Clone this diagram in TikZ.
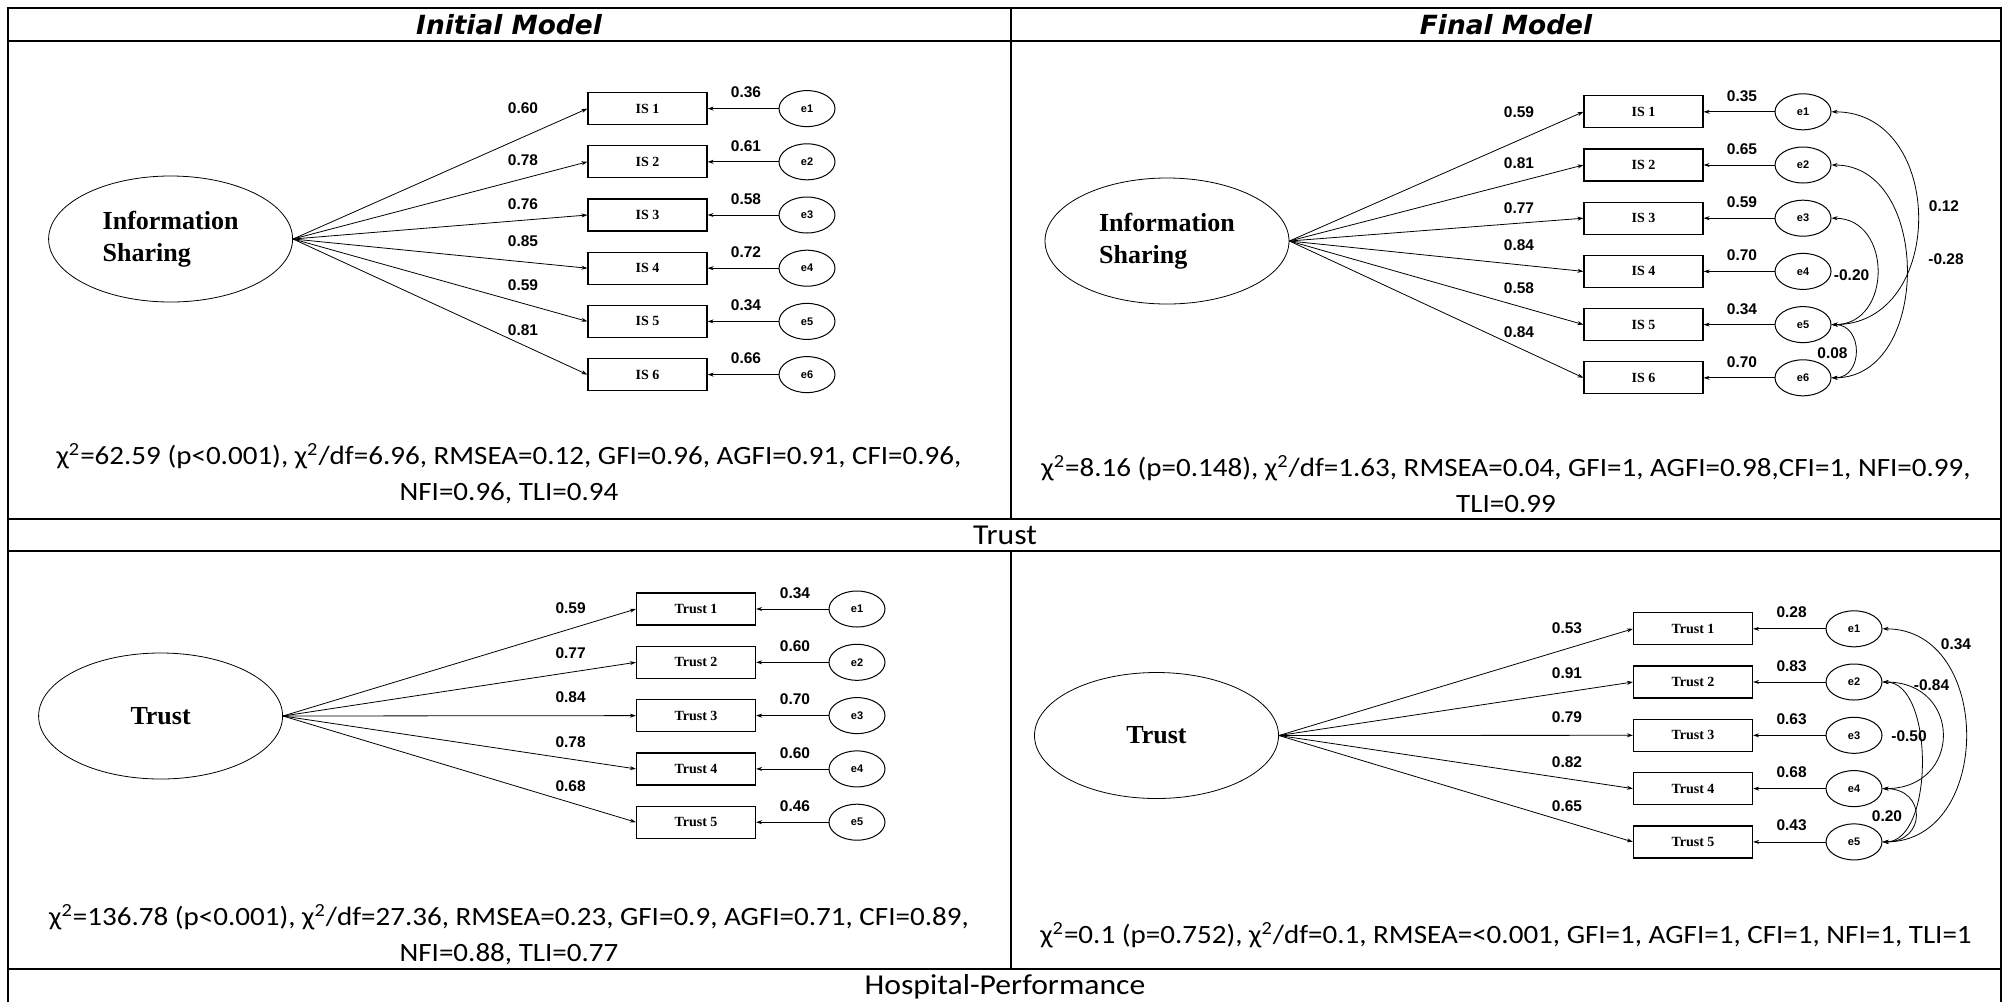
\documentclass[tikz,border=0pt]{standalone}
\usepackage{fontspec}
\setmainfont{Carlito}[FakeStretch=1.1]
\newfontfamily\hdrfont{DejaVu Sans}
\newfontfamily\tnrfont{Liberation Serif}
\newfontfamily\arlfont{Liberation Sans}
\usetikzlibrary{shapes.geometric,arrows.meta}

\begin{document}
\begin{tikzpicture}[x=0.5pt,y=-0.5pt,
  rule/.style={line width=0.8pt},
  head/.style={font=\hdrfont\bfseries\itshape\fontsize{13.2}{16}\selectfont},
  fitidx/.style={align=center,font=\fontsize{13.2}{18}\selectfont},
  rowlbl/.style={font=\fontsize{14.4}{17}\selectfont},
  latent/.style={draw,ellipse,line width=0.4pt,minimum width=122pt,minimum height=63pt,
                 inner sep=0pt,align=left,font=\tnrfont\bfseries\fontsize{13}{16}\selectfont},
  item/.style={draw,line width=0.6pt,minimum width=59.5pt,minimum height=16pt,
               inner sep=0pt,font=\tnrfont\bfseries\fontsize{7}{8}\selectfont},
  err/.style={draw,ellipse,line width=0.5pt,minimum width=28pt,minimum height=18pt,
              inner sep=0pt,font=\arlfont\bfseries\fontsize{5.5}{6}\selectfont},
  coef/.style={inner sep=0pt,font=\arlfont\bfseries\fontsize{7.75}{9}\selectfont},
  load/.style={-{Stealth[length=3pt,width=2pt]},line width=0.4pt},
  cov/.style={{Stealth[length=3pt,width=2pt]}-{Stealth[length=3pt,width=2pt]},line width=0.4pt}]
  \useasboundingbox (0,0) rectangle (2007,1002);

  % table frame
  \draw[rule] (8,1002) -- (8,8) -- (2001,8) -- (2001,1002);
  \draw[rule] (8,41) -- (2001,41);
  \draw[rule] (8,519) -- (2001,519);
  \draw[rule] (8,551) -- (2001,551);
  \draw[rule] (8,969) -- (2001,969);
  \draw[rule] (1011,8) -- (1011,519);
  \draw[rule] (1011,551) -- (1011,969);

  \node[head] (hinit) at (509,25) {Initial Model};
  \node[head] (hfinal) at (1506,25) {Final Model};
  \node[rowlbl] (rtrust) at (1005,535.5) {Trust};
  \node[rowlbl] (rhosp) at (1005,987) {Hospital-Performance};

  % initial model, information sharing
  \node[latent] (isi) at (170.6,239) {Information\\Sharing};
  \node[item] (isi1) at (647.5,108.6) {IS 1};
  \node[item] (isi2) at (647.5,161.8) {IS 2};
  \node[item] (isi3) at (647.5,215)   {IS 3};
  \node[item] (isi4) at (647.5,268.2) {IS 4};
  \node[item] (isi5) at (647.5,321.4) {IS 5};
  \node[item] (isi6) at (647.5,374.6) {IS 6};
  \node[err] (ei1) at (807,108.6) {e1};
  \node[err] (ei2) at (807,161.8) {e2};
  \node[err] (ei3) at (807,215)   {e3};
  \node[err] (ei4) at (807,268.2) {e4};
  \node[err] (ei5) at (807,321.4) {e5};
  \node[err] (ei6) at (807,374.6) {e6};
  \node[coef] (wi1) at (523,108.6) {0.60};
  \node[coef] (wi2) at (523,160)   {0.78};
  \node[coef] (wi3) at (523,204.5) {0.76};
  \node[coef] (wi4) at (523,241)   {0.85};
  \node[coef] (wi5) at (523,285.6) {0.59};
  \node[coef] (wi6) at (523,329.7) {0.81};
  \node[coef] (vi1) at (746,92.6)  {0.36};
  \node[coef] (vi2) at (746,145.8) {0.61};
  \node[coef] (vi3) at (746,199)   {0.58};
  \node[coef] (vi4) at (746,252.2) {0.72};
  \node[coef] (vi5) at (746,305.4) {0.34};
  \node[coef] (vi6) at (746,358.6) {0.66};
  \draw[load] (isi.east) -- (isi1.west);
  \draw[load] (isi.east) -- (isi2.west);
  \draw[load] (isi.east) -- (isi3.west);
  \draw[load] (isi.east) -- (isi4.west);
  \draw[load] (isi.east) -- (isi5.west);
  \draw[load] (isi.east) -- (isi6.west);
  \draw[load] (ei1) -- (isi1);
  \draw[load] (ei2) -- (isi2);
  \draw[load] (ei3) -- (isi3);
  \draw[load] (ei4) -- (isi4);
  \draw[load] (ei5) -- (isi5);
  \draw[load] (ei6) -- (isi6);
  \node[fitidx] (fiti) at (509,474)
    {χ\textsuperscript{2}=62.59 (p<0.001), χ\textsuperscript{2}/df=6.96, RMSEA=0.12, GFI=0.96, AGFI=0.91, CFI=0.96,\\
     NFI=0.96, TLI=0.94};

  % final model, information sharing
  \node[latent] (isf) at (1167,241) {Information\\Sharing};
  \node[item] (isf1) at (1643.5,111.8) {IS 1};
  \node[item] (isf2) at (1643.5,165)   {IS 2};
  \node[item] (isf3) at (1643.5,218.2) {IS 3};
  \node[item] (isf4) at (1643.5,271.4) {IS 4};
  \node[item] (isf5) at (1643.5,324.6) {IS 5};
  \node[item] (isf6) at (1643.5,377.8) {IS 6};
  \node[err] (ef1) at (1803,111.8) {e1};
  \node[err] (ef2) at (1803,165)   {e2};
  \node[err] (ef3) at (1803,218.2) {e3};
  \node[err] (ef4) at (1803,271.4) {e4};
  \node[err] (ef5) at (1803,324.6) {e5};
  \node[err] (ef6) at (1803,377.8) {e6};
  \node[coef] (wf1) at (1519,112)   {0.59};
  \node[coef] (wf2) at (1519,163.6) {0.81};
  \node[coef] (wf3) at (1519,208)   {0.77};
  \node[coef] (wf4) at (1519,244.7) {0.84};
  \node[coef] (wf5) at (1519,288)   {0.58};
  \node[coef] (wf6) at (1519,332)   {0.84};
  \node[coef] (vf1) at (1742,96)    {0.35};
  \node[coef] (vf2) at (1742,149.2) {0.65};
  \node[coef] (vf3) at (1742,202.4) {0.59};
  \node[coef] (vf4) at (1742,255.6) {0.70};
  \node[coef] (vf5) at (1742,308.8) {0.34};
  \node[coef] (vf6) at (1742,362)   {0.70};
  \draw[load] (isf.east) -- (isf1.west);
  \draw[load] (isf.east) -- (isf2.west);
  \draw[load] (isf.east) -- (isf3.west);
  \draw[load] (isf.east) -- (isf4.west);
  \draw[load] (isf.east) -- (isf5.west);
  \draw[load] (isf.east) -- (isf6.west);
  \draw[load] (ef1) -- (isf1);
  \draw[load] (ef2) -- (isf2);
  \draw[load] (ef3) -- (isf3);
  \draw[load] (ef4) -- (isf4);
  \draw[load] (ef5) -- (isf5);
  \draw[load] (ef6) -- (isf6);
  \draw[cov] (ef1.east) .. controls +(115,0) and +(115,0) .. (ef5.east);
  \draw[cov] (ef2.east) .. controls +(100,0) and +(100,0) .. (ef6.east);
  \draw[cov] (ef3.east) .. controls +(61,0) and +(61,0) .. (ef5.east);
  \draw[cov] (ef5.east) .. controls +(32,0) and +(32,0) .. (ef6.east);
  \node[coef] (cf1) at (1944,206.4)   {0.12};
  \node[coef] (cf2) at (1946,259.4)   {-0.28};
  \node[coef] (cf3) at (1851.6,274.8) {-0.20};
  \node[coef] (cf4) at (1832.5,353.4) {0.08};
  \node[fitidx] (fitf) at (1506,484)
    {χ\textsuperscript{2}=8.16 (p=0.148), χ\textsuperscript{2}/df=1.63, RMSEA=0.04, GFI=1, AGFI=0.98,CFI=1, NFI=0.99,\\
     TLI=0.99};

  % initial model, trust
  \node[latent] (tri) at (160.6,716) {Trust};
  \node[item] (tri1) at (696,609)   {Trust 1};
  \node[item] (tri2) at (696,662.3) {Trust 2};
  \node[item] (tri3) at (696,715.6) {Trust 3};
  \node[item] (tri4) at (696,768.9) {Trust 4};
  \node[item] (tri5) at (696,822.2) {Trust 5};
  \node[err] (eti1) at (857,609)   {e1};
  \node[err] (eti2) at (857,662.3) {e2};
  \node[err] (eti3) at (857,715.6) {e3};
  \node[err] (eti4) at (857,768.9) {e4};
  \node[err] (eti5) at (857,822.2) {e5};
  \node[coef] (wti1) at (570.6,608) {0.59};
  \node[coef] (wti2) at (570.6,653) {0.77};
  \node[coef] (wti3) at (570.6,697) {0.84};
  \node[coef] (wti4) at (570.6,742) {0.78};
  \node[coef] (wti5) at (570.6,786) {0.68};
  \node[coef] (vti1) at (795,593)   {0.34};
  \node[coef] (vti2) at (795,646.3) {0.60};
  \node[coef] (vti3) at (795,699.6) {0.70};
  \node[coef] (vti4) at (795,752.9) {0.60};
  \node[coef] (vti5) at (795,806.2) {0.46};
  \draw[load] (tri.east) -- (tri1.west);
  \draw[load] (tri.east) -- (tri2.west);
  \draw[load] (tri.east) -- (tri3.west);
  \draw[load] (tri.east) -- (tri4.west);
  \draw[load] (tri.east) -- (tri5.west);
  \draw[load] (eti1) -- (tri1);
  \draw[load] (eti2) -- (tri2);
  \draw[load] (eti3) -- (tri3);
  \draw[load] (eti4) -- (tri4);
  \draw[load] (eti5) -- (tri5);
  \node[fitidx] (fitti) at (509,935)
    {χ\textsuperscript{2}=136.78 (p<0.001), χ\textsuperscript{2}/df=27.36, RMSEA=0.23, GFI=0.9, AGFI=0.71, CFI=0.89,\\
     NFI=0.88, TLI=0.77};

  % final model, trust
  \node[latent] (trf) at (1156.5,735.5) {Trust};
  \node[item] (trf1) at (1693,628.8) {Trust 1};
  \node[item] (trf2) at (1693,682)   {Trust 2};
  \node[item] (trf3) at (1693,735.3) {Trust 3};
  \node[item] (trf4) at (1693,788.6) {Trust 4};
  \node[item] (trf5) at (1693,841.9) {Trust 5};
  \node[err] (etf1) at (1854,628.8) {e1};
  \node[err] (etf2) at (1854,682)   {e2};
  \node[err] (etf3) at (1854,735.3) {e3};
  \node[err] (etf4) at (1854,788.6) {e4};
  \node[err] (etf5) at (1854,841.9) {e5};
  \node[coef] (wtf1) at (1567,628) {0.53};
  \node[coef] (wtf2) at (1567,673) {0.91};
  \node[coef] (wtf3) at (1567,717) {0.79};
  \node[coef] (wtf4) at (1567,762) {0.82};
  \node[coef] (wtf5) at (1567,806) {0.65};
  \node[coef] (vtf1) at (1791.6,612.5) {0.28};
  \node[coef] (vtf2) at (1791.6,665.7) {0.83};
  \node[coef] (vtf3) at (1791.6,719)   {0.63};
  \node[coef] (vtf4) at (1791.6,772.3) {0.68};
  \node[coef] (vtf5) at (1791.6,825.6) {0.43};
  \draw[load] (trf.east) -- (trf1.west);
  \draw[load] (trf.east) -- (trf2.west);
  \draw[load] (trf.east) -- (trf3.west);
  \draw[load] (trf.east) -- (trf4.west);
  \draw[load] (trf.east) -- (trf5.west);
  \draw[load] (etf1) -- (trf1);
  \draw[load] (etf2) -- (trf2);
  \draw[load] (etf3) -- (trf3);
  \draw[load] (etf4) -- (trf4);
  \draw[load] (etf5) -- (trf5);
  \draw[cov] (etf1.east) .. controls +(111,0) and +(111,0) .. (etf5.east);
  \draw[cov] (etf2.east) .. controls +(80,0) and +(80,0) .. (etf4.east);
  \draw[cov] (etf2.east) .. controls +(52,0) and +(52,0) .. (etf5.east);
  \draw[cov] (etf4.east) .. controls +(44,0) and +(44,0) .. (etf5.east);
  \node[coef] (ctf1) at (1956,644)   {0.34};
  \node[coef] (ctf2) at (1931.5,685) {-0.84};
  \node[coef] (ctf3) at (1909,736)   {-0.50};
  \node[coef] (ctf4) at (1887,816.6) {0.20};
  \node[fitidx] (fittf) at (1506,935)
    {χ\textsuperscript{2}=0.1 (p=0.752), χ\textsuperscript{2}/df=0.1, RMSEA=<0.001, GFI=1, AGFI=1, CFI=1, NFI=1, TLI=1};
\end{tikzpicture}
\end{document}
